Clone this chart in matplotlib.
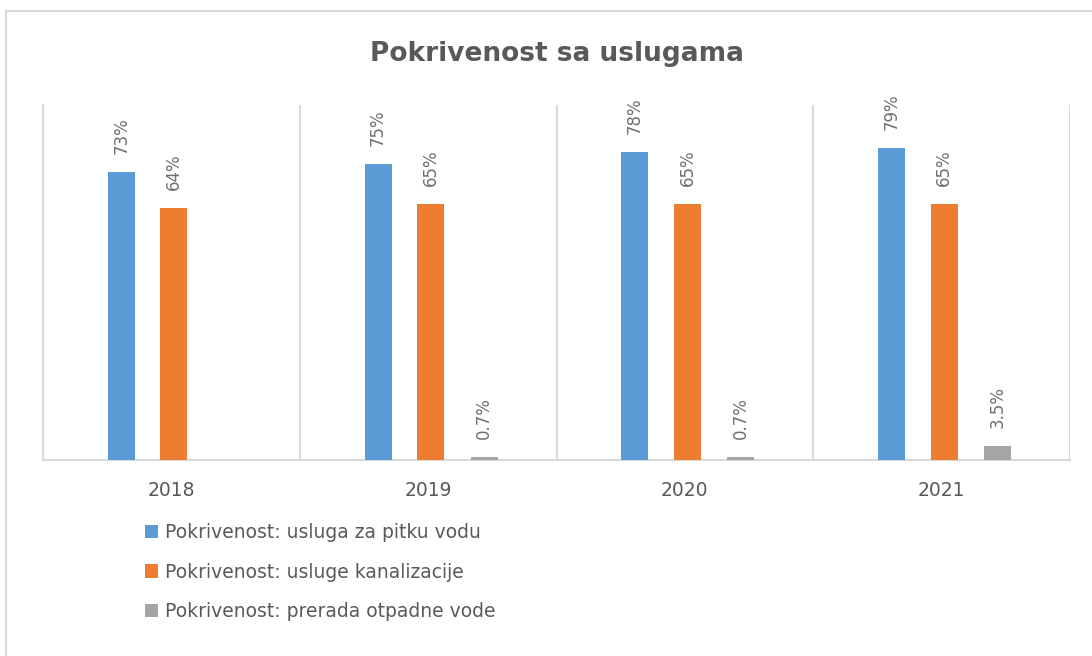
import matplotlib
matplotlib.use("Agg")
import matplotlib.pyplot as plt
import numpy as np
from matplotlib.patches import Rectangle, Patch

years = ["2018", "2019", "2020", "2021"]
series_names = ["Pokrivenost: usluga za pitku vodu",
                "Pokrivenost: usluge kanalizacije",
                "Pokrivenost: prerada otpadne vode"]
pitka_voda = [0.73, 0.75, 0.78, 0.79]
kanalizacija = [0.64, 0.65, 0.65, 0.65]
otpadna_voda = [None, 0.007, 0.007, 0.035]
labels_pitka = ["73%", "75%", "78%", "79%"]
labels_kanal = ["64%", "65%", "65%", "65%"]
labels_otpad = ["", "0.7%", "0.7%", "3.5%"]
colors = ["#5B9BD5", "#ED7D31", "#A5A5A5"]
text_color = "#595959"
grid_color = "#D9D9D9"

plt.rcParams['font.family'] = ['DejaVu Sans']

fig = plt.figure(figsize=(10.92, 6.56), dpi=100)
fig.patches.append(Rectangle((6/1092, -0.1), 1.2, 1 - 11/656 + 0.1,
                             transform=fig.transFigure, fill=False,
                             edgecolor=grid_color, linewidth=1.5))
ax = fig.add_axes([43/1092, 1 - 460/656, (1070 - 43)/1092, (460 - 105)/656])

x = np.arange(len(years))
offsets = [-0.195, 0.01, 0.218]
width = 0.105
all_vals = [pitka_voda, kanalizacija, otpadna_voda]
all_labels = [labels_pitka, labels_kanal, labels_otpad]
for i, (vals, labs) in enumerate(zip(all_vals, all_labels)):
    v = np.array([np.nan if a is None else a for a in vals], dtype=float)
    ax.bar(x + offsets[i], v, width, color=colors[i], label=series_names[i], zorder=3)
    for xi, val, lab in zip(x + offsets[i], v, labs):
        if np.isnan(val) or not lab:
            continue
        ax.annotate(lab, (xi, val), xytext=(0, 13), textcoords="offset points",
                    rotation=90, ha="center", va="bottom", fontsize=12,
                    color="#6E6E6E")

ax.set_xlim(-0.5, 3.5)
ax.set_ylim(0, 0.9)
ax.set_yticks([])
ax.set_xticks(x)
ax.set_xticklabels(years, fontsize=13.5, color=text_color)
ax.tick_params(axis="x", length=0, pad=15)
for b in [0.5, 1.5, 2.5, 3.5]:
    ax.axvline(b, color=grid_color, linewidth=1.5, zorder=1)
for s in ["top", "right"]:
    ax.spines[s].set_visible(False)
ax.spines["left"].set_color(grid_color)
ax.spines["left"].set_linewidth(1.5)
ax.spines["bottom"].set_color(grid_color)
ax.spines["bottom"].set_linewidth(1.5)

ax.set_title("Pokrivenost sa uslugama", fontsize=19, color=text_color,
             fontweight="bold", pad=32)

handles = [Patch(facecolor=c) for c in colors]
fig.legend(handles, series_names, loc="upper left",
           bbox_to_anchor=(128/1092, 1 - 506/656), frameon=False,
           fontsize=13.5, labelcolor=text_color, handlelength=0.7,
           handleheight=0.7, handletextpad=0.35, labelspacing=1.1)

fig.savefig("out.png", dpi=100)
